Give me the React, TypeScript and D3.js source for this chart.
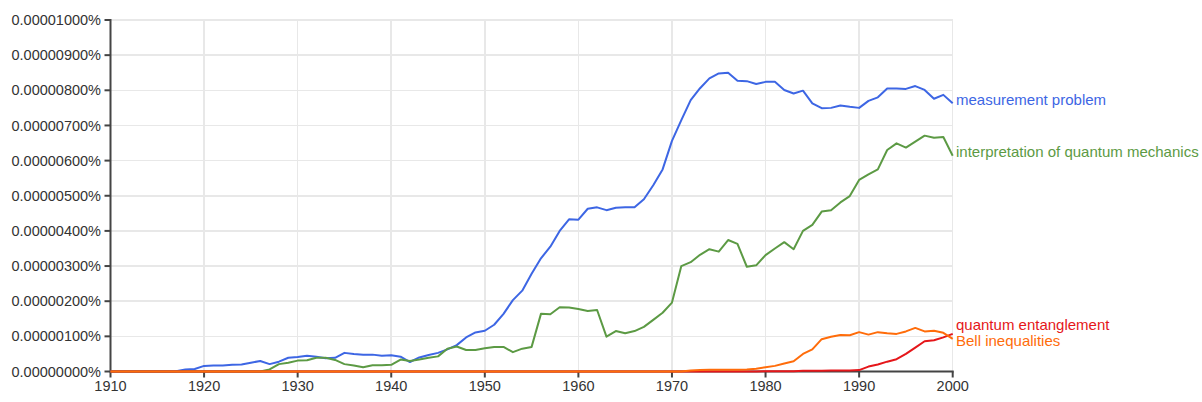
import React from "react";
import * as d3 from "d3";

// Years 1910..2000, values in units of 0.000001 %
const years: number[] = d3.range(1910, 2001);

const measurementProblem: number[] = [
  0, 0, 0, 0, 0, 0, 0, 0.01, 0.06, 0.07,
  0.16, 0.17, 0.17, 0.19, 0.2, 0.25, 0.3, 0.21, 0.28, 0.39,
  0.41, 0.45, 0.42, 0.38, 0.39, 0.53, 0.5, 0.48, 0.48, 0.45,
  0.46, 0.42, 0.27, 0.4, 0.47, 0.53, 0.63, 0.75, 0.97, 1.11,
  1.16, 1.33, 1.64, 2.03, 2.3, 2.78, 3.22, 3.55, 4.0, 4.33,
  4.32, 4.63, 4.67, 4.59, 4.66, 4.67, 4.67, 4.9, 5.3, 5.75,
  6.56, 7.15, 7.72, 8.06, 8.34, 8.48, 8.5, 8.27, 8.26, 8.18,
  8.24, 8.24, 8.01, 7.91, 7.99, 7.63, 7.49, 7.5, 7.57, 7.53,
  7.5, 7.7, 7.8, 8.05, 8.05, 8.04, 8.12, 8.01, 7.76, 7.87,
  7.63,
];

const interpretation: number[] = [
  0, 0, 0, 0, 0, 0, 0, 0, 0, 0,
  0, 0, 0, 0, 0, 0, 0, 0.06, 0.21, 0.25,
  0.31, 0.32, 0.39, 0.39, 0.33, 0.21, 0.17, 0.12, 0.18, 0.18,
  0.19, 0.34, 0.3, 0.34, 0.39, 0.43, 0.65, 0.71, 0.61, 0.61,
  0.66, 0.7, 0.7, 0.55, 0.65, 0.7, 1.64, 1.63, 1.83, 1.82,
  1.78, 1.72, 1.75, 0.99, 1.15, 1.09, 1.15, 1.27, 1.47, 1.67,
  1.96, 3.0, 3.11, 3.32, 3.48, 3.41, 3.74, 3.63, 2.98, 3.02,
  3.31, 3.5, 3.68, 3.48, 4.0, 4.17, 4.55, 4.59, 4.81, 4.99,
  5.45, 5.61, 5.75, 6.3, 6.49, 6.37, 6.54, 6.71, 6.65, 6.67,
  6.14,
];

const quantumEntanglement: number[] = [
  0, 0, 0, 0, 0, 0, 0, 0, 0, 0,
  0, 0, 0, 0, 0, 0, 0, 0, 0, 0,
  0, 0, 0, 0, 0, 0, 0, 0, 0, 0,
  0, 0, 0, 0, 0, 0, 0, 0, 0, 0,
  0, 0, 0, 0, 0, 0, 0, 0, 0, 0,
  0, 0, 0, 0, 0, 0, 0, 0, 0, 0,
  0, 0, 0, 0, 0, 0, 0, 0, 0, 0,
  0.01, 0.01, 0.01, 0.01, 0.02, 0.02, 0.02, 0.03, 0.03, 0.03,
  0.04, 0.14, 0.2, 0.28, 0.35, 0.5, 0.68, 0.86, 0.89, 0.97,
  1.07,
];

const bellInequalities: number[] = [
  0, 0, 0, 0, 0, 0, 0, 0, 0, 0,
  0, 0, 0, 0, 0, 0, 0, 0, 0, 0,
  0, 0, 0, 0, 0, 0, 0, 0, 0, 0,
  0, 0, 0, 0, 0, 0, 0, 0, 0, 0,
  0, 0, 0, 0, 0, 0, 0, 0, 0, 0,
  0, 0, 0, 0, 0, 0, 0, 0, 0, 0,
  0, 0, 0.03, 0.04, 0.05, 0.05, 0.05, 0.05, 0.06, 0.08,
  0.12, 0.16, 0.23, 0.29, 0.5, 0.63, 0.92, 0.99, 1.04, 1.03,
  1.12, 1.05, 1.12, 1.09, 1.07, 1.14, 1.24, 1.14, 1.16, 1.1,
  0.93,
];

const seriesNames: string[] = [
  "measurement problem",
  "interpretation of quantum mechanics",
  "quantum entanglement",
  "Bell inequalities",
];
const seriesValues: number[][] = [
  measurementProblem,
  interpretation,
  quantumEntanglement,
  bellInequalities,
];
const seriesColors: string[] = ["#3d66e4", "#5c9a44", "#e5161a", "#ff6c0a"];

const yTicks: number[] = [0, 1, 2, 3, 4, 5, 6, 7, 8, 9, 10];
const xTicks: number[] = [1910, 1920, 1930, 1940, 1950, 1960, 1970, 1980, 1990, 2000];

const FONT = "Arial, 'Liberation Sans', Helvetica, sans-serif";

export default function App() {
  const x = d3.scaleLinear().domain([1910, 2000]).range([110.5, 952.7]);
  const y = d3.scaleLinear().domain([0, 10]).range([371.5, 20]);
  const line = d3
    .line<number>()
    .x((_, i) => x(years[i]))
    .y((d) => y(d));

  // label positions with simple collision avoidance
  const labels = seriesNames.map((name, i) => ({
    name,
    color: seriesColors[i],
    y: y(seriesValues[i][seriesValues[i].length - 1]) - 3.5,
  }));
  const sorted = [...labels].sort((a, b) => a.y - b.y);
  for (let iter = 0; iter < 20; iter++) {
    for (let k = 1; k < sorted.length; k++) {
      const gap = sorted[k].y - sorted[k - 1].y;
      if (gap < 16) {
        const d = (16 - gap) / 2;
        sorted[k - 1].y -= d;
        sorted[k].y += d;
      }
    }
  }

  const fmt = (v: number) => (v * 1e-6).toFixed(8) + "%";

  return (
    <svg
      width={1202}
      height={402}
      style={{ position: "absolute", left: 0, top: 0, background: "#fff" }}
      fontFamily={FONT}
    >
      {/* grid */}
      <g stroke="#e8e8e8" strokeWidth={1.5} shapeRendering="crispEdges">
        {yTicks.map((t) => (
          <line key={"gy" + t} x1={x(1910)} x2={x(2000)} y1={y(t)} y2={y(t)} />
        ))}
        {xTicks.map((t) => (
          <line key={"gx" + t} x1={x(t)} x2={x(t)} y1={y(10)} y2={y(0)} />
        ))}
      </g>

      {/* axes */}
      <g stroke="#444" strokeWidth={2}>
        <line x1={x(1910)} x2={x(1910)} y1={y(10) - 1} y2={y(0) + 1} />
        <line x1={x(1910)} x2={x(2000) + 1} y1={y(0)} y2={y(0)} />
        {yTicks.map((t) => (
          <line key={"ty" + t} x1={x(1910) - 6} x2={x(1910)} y1={y(t)} y2={y(t)} />
        ))}
        {xTicks.map((t) => (
          <line key={"tx" + t} x1={x(t)} x2={x(t)} y1={y(0)} y2={y(0) + 6} />
        ))}
      </g>

      {/* tick labels */}
      <g fill="#333" fontSize={14.5}>
        {yTicks.map((t) => (
          <text key={"ly" + t} x={101} y={y(t)} dy="0.35em" textAnchor="end">
            {fmt(t)}
          </text>
        ))}
        {xTicks.map((t) => (
          <text key={"lx" + t} x={x(t)} y={391} textAnchor="middle">
            {t}
          </text>
        ))}
      </g>

      {/* lines */}
      <g fill="none" strokeWidth={2} strokeLinejoin="round">
        {seriesValues.map((vals, i) => (
          <path key={"s" + i} d={line(vals) || ""} stroke={seriesColors[i]} />
        ))}
      </g>

      {/* series labels */}
      <g fontSize={15}>
        {labels.map((l) => (
          <text key={l.name} x={956} y={l.y} dy="0.35em" fill={l.color}>
            {l.name}
          </text>
        ))}
      </g>
    </svg>
  );
}
